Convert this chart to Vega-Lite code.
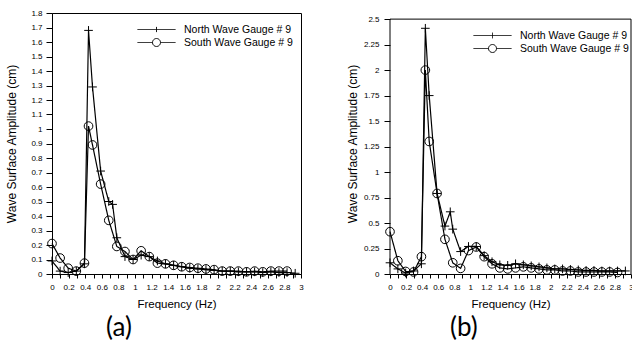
{
  "$schema": "https://vega.github.io/schema/vega-lite/v6.json",
  "padding": {"left": 5, "top": 8, "right": 0, "bottom": 0},
  "bounds": "flush",
  "spacing": 89,
  "resolve": {"scale": {"strokeDash": "independent", "shape": "independent", "x": "independent", "y": "independent"}, "legend": {"strokeDash": "independent", "shape": "independent"}},
  "config": {
    "font": "Liberation Sans",
    "view": {"stroke": "black", "strokeWidth": 1},
    "axis": {"grid": false, "domainColor": "black", "tickColor": "black", "labelColor": "black", "titleColor": "black", "labelFontSize": 8, "titleFontWeight": "normal", "titleFontSize": 11.5, "domainWidth": 1, "tickWidth": 1, "labelFlush": false},
    "legend": {"labelFontSize": 10.5, "labelColor": "black", "labelFont": "Liberation Sans"}
  },
  "datasets": {
    "a": [
      {"f": 0, "amp": 0.09, "gauge": "North Wave Gauge # 9"},
      {"f": 0.098, "amp": 0.02, "gauge": "North Wave Gauge # 9"},
      {"f": 0.195, "amp": 0.01, "gauge": "North Wave Gauge # 9"},
      {"f": 0.293, "amp": 0.02, "gauge": "North Wave Gauge # 9"},
      {"f": 0.391, "amp": 0.07, "gauge": "North Wave Gauge # 9"},
      {"f": 0.44, "amp": 1.68, "gauge": "North Wave Gauge # 9"},
      {"f": 0.488, "amp": 1.29, "gauge": "North Wave Gauge # 9"},
      {"f": 0.586, "amp": 0.71, "gauge": "North Wave Gauge # 9"},
      {"f": 0.684, "amp": 0.5, "gauge": "North Wave Gauge # 9"},
      {"f": 0.73, "amp": 0.48, "gauge": "North Wave Gauge # 9"},
      {"f": 0.781, "amp": 0.25, "gauge": "North Wave Gauge # 9"},
      {"f": 0.879, "amp": 0.12, "gauge": "North Wave Gauge # 9"},
      {"f": 0.977, "amp": 0.1, "gauge": "North Wave Gauge # 9"},
      {"f": 1.074, "amp": 0.13, "gauge": "North Wave Gauge # 9"},
      {"f": 1.172, "amp": 0.12, "gauge": "North Wave Gauge # 9"},
      {"f": 1.27, "amp": 0.09, "gauge": "North Wave Gauge # 9"},
      {"f": 1.367, "amp": 0.07, "gauge": "North Wave Gauge # 9"},
      {"f": 1.465, "amp": 0.06, "gauge": "North Wave Gauge # 9"},
      {"f": 1.563, "amp": 0.05, "gauge": "North Wave Gauge # 9"},
      {"f": 1.66, "amp": 0.04, "gauge": "North Wave Gauge # 9"},
      {"f": 1.758, "amp": 0.035, "gauge": "North Wave Gauge # 9"},
      {"f": 1.855, "amp": 0.03, "gauge": "North Wave Gauge # 9"},
      {"f": 1.953, "amp": 0.025, "gauge": "North Wave Gauge # 9"},
      {"f": 2.051, "amp": 0.02, "gauge": "North Wave Gauge # 9"},
      {"f": 2.148, "amp": 0.02, "gauge": "North Wave Gauge # 9"},
      {"f": 2.246, "amp": 0.015, "gauge": "North Wave Gauge # 9"},
      {"f": 2.344, "amp": 0.015, "gauge": "North Wave Gauge # 9"},
      {"f": 2.441, "amp": 0.015, "gauge": "North Wave Gauge # 9"},
      {"f": 2.539, "amp": 0.01, "gauge": "North Wave Gauge # 9"},
      {"f": 2.637, "amp": 0.015, "gauge": "North Wave Gauge # 9"},
      {"f": 2.734, "amp": 0.01, "gauge": "North Wave Gauge # 9"},
      {"f": 2.832, "amp": 0.01, "gauge": "North Wave Gauge # 9"},
      {"f": 2.93, "amp": 0.005, "gauge": "North Wave Gauge # 9"},
      {"f": 0, "amp": 0.21, "gauge": "South Wave Gauge # 9"},
      {"f": 0.098, "amp": 0.11, "gauge": "South Wave Gauge # 9"},
      {"f": 0.195, "amp": 0.04, "gauge": "South Wave Gauge # 9"},
      {"f": 0.293, "amp": 0.02, "gauge": "South Wave Gauge # 9"},
      {"f": 0.391, "amp": 0.075, "gauge": "South Wave Gauge # 9"},
      {"f": 0.44, "amp": 1.02, "gauge": "South Wave Gauge # 9"},
      {"f": 0.488, "amp": 0.89, "gauge": "South Wave Gauge # 9"},
      {"f": 0.586, "amp": 0.62, "gauge": "South Wave Gauge # 9"},
      {"f": 0.684, "amp": 0.37, "gauge": "South Wave Gauge # 9"},
      {"f": 0.781, "amp": 0.19, "gauge": "South Wave Gauge # 9"},
      {"f": 0.879, "amp": 0.155, "gauge": "South Wave Gauge # 9"},
      {"f": 0.977, "amp": 0.1, "gauge": "South Wave Gauge # 9"},
      {"f": 1.074, "amp": 0.16, "gauge": "South Wave Gauge # 9"},
      {"f": 1.172, "amp": 0.12, "gauge": "South Wave Gauge # 9"},
      {"f": 1.27, "amp": 0.075, "gauge": "South Wave Gauge # 9"},
      {"f": 1.367, "amp": 0.07, "gauge": "South Wave Gauge # 9"},
      {"f": 1.465, "amp": 0.06, "gauge": "South Wave Gauge # 9"},
      {"f": 1.563, "amp": 0.05, "gauge": "South Wave Gauge # 9"},
      {"f": 1.66, "amp": 0.045, "gauge": "South Wave Gauge # 9"},
      {"f": 1.758, "amp": 0.04, "gauge": "South Wave Gauge # 9"},
      {"f": 1.855, "amp": 0.035, "gauge": "South Wave Gauge # 9"},
      {"f": 1.953, "amp": 0.03, "gauge": "South Wave Gauge # 9"},
      {"f": 2.051, "amp": 0.02, "gauge": "South Wave Gauge # 9"},
      {"f": 2.148, "amp": 0.02, "gauge": "South Wave Gauge # 9"},
      {"f": 2.246, "amp": 0.02, "gauge": "South Wave Gauge # 9"},
      {"f": 2.344, "amp": 0.015, "gauge": "South Wave Gauge # 9"},
      {"f": 2.441, "amp": 0.02, "gauge": "South Wave Gauge # 9"},
      {"f": 2.539, "amp": 0.015, "gauge": "South Wave Gauge # 9"},
      {"f": 2.637, "amp": 0.02, "gauge": "South Wave Gauge # 9"},
      {"f": 2.734, "amp": 0.02, "gauge": "South Wave Gauge # 9"},
      {"f": 2.832, "amp": 0.02, "gauge": "South Wave Gauge # 9"}
    ],
    "b": [
      {"f": 0, "amp": 0.11, "gauge": "North Wave Gauge # 9"},
      {"f": 0.098, "amp": 0.05, "gauge": "North Wave Gauge # 9"},
      {"f": 0.195, "amp": 0.01, "gauge": "North Wave Gauge # 9"},
      {"f": 0.293, "amp": 0.03, "gauge": "North Wave Gauge # 9"},
      {"f": 0.391, "amp": 0.1, "gauge": "North Wave Gauge # 9"},
      {"f": 0.44, "amp": 2.41, "gauge": "North Wave Gauge # 9"},
      {"f": 0.488, "amp": 1.75, "gauge": "North Wave Gauge # 9"},
      {"f": 0.586, "amp": 0.79, "gauge": "North Wave Gauge # 9"},
      {"f": 0.684, "amp": 0.47, "gauge": "North Wave Gauge # 9"},
      {"f": 0.75, "amp": 0.61, "gauge": "North Wave Gauge # 9"},
      {"f": 0.781, "amp": 0.44, "gauge": "North Wave Gauge # 9"},
      {"f": 0.879, "amp": 0.22, "gauge": "North Wave Gauge # 9"},
      {"f": 0.977, "amp": 0.27, "gauge": "North Wave Gauge # 9"},
      {"f": 1.074, "amp": 0.27, "gauge": "North Wave Gauge # 9"},
      {"f": 1.172, "amp": 0.18, "gauge": "North Wave Gauge # 9"},
      {"f": 1.27, "amp": 0.12, "gauge": "North Wave Gauge # 9"},
      {"f": 1.367, "amp": 0.09, "gauge": "North Wave Gauge # 9"},
      {"f": 1.465, "amp": 0.085, "gauge": "North Wave Gauge # 9"},
      {"f": 1.563, "amp": 0.1, "gauge": "North Wave Gauge # 9"},
      {"f": 1.66, "amp": 0.09, "gauge": "North Wave Gauge # 9"},
      {"f": 1.758, "amp": 0.08, "gauge": "North Wave Gauge # 9"},
      {"f": 1.855, "amp": 0.07, "gauge": "North Wave Gauge # 9"},
      {"f": 1.953, "amp": 0.06, "gauge": "North Wave Gauge # 9"},
      {"f": 2.051, "amp": 0.05, "gauge": "North Wave Gauge # 9"},
      {"f": 2.148, "amp": 0.05, "gauge": "North Wave Gauge # 9"},
      {"f": 2.246, "amp": 0.045, "gauge": "North Wave Gauge # 9"},
      {"f": 2.344, "amp": 0.04, "gauge": "North Wave Gauge # 9"},
      {"f": 2.441, "amp": 0.035, "gauge": "North Wave Gauge # 9"},
      {"f": 2.539, "amp": 0.035, "gauge": "North Wave Gauge # 9"},
      {"f": 2.637, "amp": 0.03, "gauge": "North Wave Gauge # 9"},
      {"f": 2.734, "amp": 0.03, "gauge": "North Wave Gauge # 9"},
      {"f": 2.832, "amp": 0.03, "gauge": "North Wave Gauge # 9"},
      {"f": 2.93, "amp": 0.03, "gauge": "North Wave Gauge # 9"},
      {"f": 0, "amp": 0.415, "gauge": "South Wave Gauge # 9"},
      {"f": 0.098, "amp": 0.13, "gauge": "South Wave Gauge # 9"},
      {"f": 0.195, "amp": 0.025, "gauge": "South Wave Gauge # 9"},
      {"f": 0.293, "amp": 0.02, "gauge": "South Wave Gauge # 9"},
      {"f": 0.391, "amp": 0.17, "gauge": "South Wave Gauge # 9"},
      {"f": 0.44, "amp": 2.0, "gauge": "South Wave Gauge # 9"},
      {"f": 0.488, "amp": 1.3, "gauge": "South Wave Gauge # 9"},
      {"f": 0.586, "amp": 0.79, "gauge": "South Wave Gauge # 9"},
      {"f": 0.684, "amp": 0.34, "gauge": "South Wave Gauge # 9"},
      {"f": 0.781, "amp": 0.11, "gauge": "South Wave Gauge # 9"},
      {"f": 0.879, "amp": 0.055, "gauge": "South Wave Gauge # 9"},
      {"f": 0.977, "amp": 0.23, "gauge": "South Wave Gauge # 9"},
      {"f": 1.074, "amp": 0.265, "gauge": "South Wave Gauge # 9"},
      {"f": 1.172, "amp": 0.17, "gauge": "South Wave Gauge # 9"},
      {"f": 1.27, "amp": 0.1, "gauge": "South Wave Gauge # 9"},
      {"f": 1.367, "amp": 0.06, "gauge": "South Wave Gauge # 9"},
      {"f": 1.465, "amp": 0.05, "gauge": "South Wave Gauge # 9"},
      {"f": 1.563, "amp": 0.06, "gauge": "South Wave Gauge # 9"},
      {"f": 1.66, "amp": 0.07, "gauge": "South Wave Gauge # 9"},
      {"f": 1.758, "amp": 0.06, "gauge": "South Wave Gauge # 9"},
      {"f": 1.855, "amp": 0.05, "gauge": "South Wave Gauge # 9"},
      {"f": 1.953, "amp": 0.04, "gauge": "South Wave Gauge # 9"},
      {"f": 2.051, "amp": 0.04, "gauge": "South Wave Gauge # 9"},
      {"f": 2.148, "amp": 0.03, "gauge": "South Wave Gauge # 9"},
      {"f": 2.246, "amp": 0.03, "gauge": "South Wave Gauge # 9"},
      {"f": 2.344, "amp": 0.02, "gauge": "South Wave Gauge # 9"},
      {"f": 2.441, "amp": 0.02, "gauge": "South Wave Gauge # 9"},
      {"f": 2.539, "amp": 0.02, "gauge": "South Wave Gauge # 9"},
      {"f": 2.637, "amp": 0.02, "gauge": "South Wave Gauge # 9"},
      {"f": 2.734, "amp": 0.02, "gauge": "South Wave Gauge # 9"},
      {"f": 2.832, "amp": 0.015, "gauge": "South Wave Gauge # 9"}
    ]
  },
  "hconcat": [
    {
      "width": 249,
      "height": 261,
      "data": {"name": "a"},
      "title": {"text": "(a)", "orient": "bottom", "anchor": "start", "frame": "group", "dx": 54, "offset": 5, "font": "Lato", "fontSize": 26, "fontWeight": "normal", "color": "black"},
      "encoding": {
        "x": {"field": "f", "type": "quantitative", "scale": {"domain": [0, 3], "nice": false, "zero": false},
          "axis": {"title": "Frequency (Hz)", "values": [0,0.1,0.2,0.3,0.4,0.5,0.6,0.7,0.8,0.9,1,1.1,1.2,1.3,1.4,1.5,1.6,1.7,1.8,1.9,2,2.1,2.2,2.3,2.4,2.5,2.6,2.7,2.8,2.9,3],
            "labelExpr": "round(datum.value*10) % 2 === 1 ? '' : format(datum.value, '~g')",
            "labelOverlap": false, "tickCount": 100, "tickSize": 4, "labelPadding": 5, "titlePadding": 7}},
        "y": {"field": "amp", "type": "quantitative", "scale": {"domain": [0, 1.8], "nice": false},
          "axis": {"title": "Wave Surface Amplitude (cm)", "titleFontSize": 12, "values": [0,0.1,0.2,0.3,0.4,0.5,0.6,0.7,0.8,0.9,1,1.1,1.2,1.3,1.4,1.5,1.6,1.7,1.8],
            "labelExpr": "format(datum.value, '~g')", "labelOverlap": false, "tickCount": 100, "tickSize": 6, "labelPadding": 4, "titlePadding": 12}}
      },
      "layer": [
        {"mark": {"type": "line", "color": "black", "strokeWidth": 1.2},
          "encoding": {"strokeDash": {"field": "gauge", "type": "nominal",
            "scale": {"domain": ["North Wave Gauge # 9", "South Wave Gauge # 9"], "range": [[1, 0], [1, 0]]},
            "legend": {"title": null, "orient": "none", "legendX": 99, "legendY": 11, "symbolSize": 90, "labelOffset": 22, "rowPadding": 1,
              "symbolStrokeColor": "black", "symbolStrokeWidth": 1, "symbolFillColor": "transparent",
              "encode": {"symbols": {"update": {"size": {"value": 90}, "shape": {"signal": "datum.value === 'North Wave Gauge # 9' ? 'M-4,0L4,0M0,-0.55L0,0.55' : 'M-4,0L-0.84,0M0.84,0L4,0M-0.84,0A0.84,0.84 0 1 1 0.84,0A0.84,0.84 0 1 1 -0.84,0'"}}}}}}}},
        {"mark": {"type": "point", "filled": false, "color": "black", "opacity": 1, "strokeWidth": 1, "size": 75},
          "encoding": {"shape": {"field": "gauge", "type": "nominal",
            "scale": {"range": ["M-1,0L1,0M0,-1L0,1", "circle"]},
            "legend": null}}}
      ]
    },
    {
      "width": 241,
      "height": 261,
      "view": {"stroke": null},
      "title": {"text": "(b)", "orient": "bottom", "anchor": "start", "frame": "group", "dx": 60, "offset": 5, "font": "Lato", "fontSize": 26, "fontWeight": "normal", "color": "black"},
      "layer": [
        {"data": {"name": "b"}, "mark": {"type": "line", "color": "black", "strokeWidth": 1.2},
          "encoding": {
            "x": {"field": "f", "type": "quantitative", "scale": {"domain": [0, 3], "nice": false, "zero": false},
              "axis": {"title": "Frequency (Hz)", "values": [0,0.1,0.2,0.3,0.4,0.5,0.6,0.7,0.8,0.9,1,1.1,1.2,1.3,1.4,1.5,1.6,1.7,1.8,1.9,2,2.1,2.2,2.3,2.4,2.5,2.6,2.7,2.8,2.9,3],
                "labelExpr": "round(datum.value*10) % 2 === 1 ? '' : format(datum.value, '~g')",
                "labelOverlap": false, "tickCount": 100, "tickSize": 4, "labelPadding": 5, "titlePadding": 7}},
            "y": {"field": "amp", "type": "quantitative", "scale": {"domain": [0, 2.56], "nice": false},
              "axis": {"title": "Wave Surface Amplitude (cm)", "titleFontSize": 12, "domain": false, "values": [0,0.25,0.5,0.75,1,1.25,1.5,1.75,2,2.25,2.5],
                "labelExpr": "format(datum.value, '~g')", "labelOverlap": false, "tickCount": 100, "tickSize": 6, "labelPadding": 5, "titlePadding": 4}},
            "strokeDash": {"field": "gauge", "type": "nominal",
              "scale": {"domain": ["North Wave Gauge # 9", "South Wave Gauge # 9"], "range": [[1, 0], [1, 0]]},
              "legend": {"title": null, "orient": "none", "legendX": 97, "legendY": 17, "symbolSize": 90, "labelOffset": 22, "rowPadding": 1,
                "symbolStrokeColor": "black", "symbolStrokeWidth": 1, "symbolFillColor": "transparent",
                "encode": {"symbols": {"update": {"size": {"value": 90}, "shape": {"signal": "datum.value === 'North Wave Gauge # 9' ? 'M-4,0L4,0M0,-0.6L0,0.6' : 'M-4,0L-0.84,0M0.84,0L4,0M-0.84,0A0.84,0.84 0 1 1 0.84,0A0.84,0.84 0 1 1 -0.84,0'"}}}}}}
          }},
        {"data": {"name": "b"}, "mark": {"type": "point", "filled": false, "color": "black", "opacity": 1, "strokeWidth": 1, "size": 75},
          "encoding": {
            "x": {"field": "f", "type": "quantitative"},
            "y": {"field": "amp", "type": "quantitative"},
            "shape": {"field": "gauge", "type": "nominal",
              "scale": {"range": ["M-1,0L1,0M0,-1L0,1", "circle"]},
              "legend": null}}},
        {"data": {"values": [{}]}, "mark": {"type": "rule", "color": "black", "strokeWidth": 1},
          "encoding": {"x": {"datum": 0}, "x2": {"datum": 3}, "y": {"datum": 2.5}}},
        {"data": {"values": [{}]}, "mark": {"type": "rule", "color": "black", "strokeWidth": 1},
          "encoding": {"x": {"datum": 0}, "y": {"datum": 0}, "y2": {"datum": 2.5}}},
        {"data": {"values": [{}]}, "mark": {"type": "rule", "color": "black", "strokeWidth": 1},
          "encoding": {"x": {"datum": 3}, "y": {"datum": 0}, "y2": {"datum": 2.5}}}
      ]
    }
  ]
}
